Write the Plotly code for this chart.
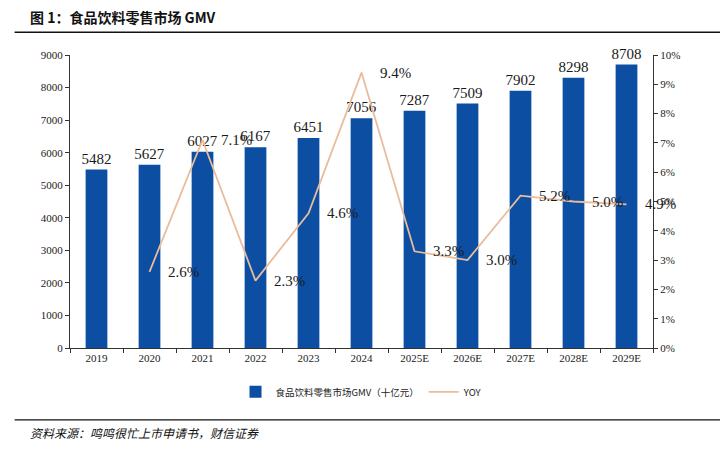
import plotly.graph_objects as go

years = ["2019", "2020", "2021", "2022", "2023", "2024", "2025E", "2026E", "2027E", "2028E", "2029E"]
gmv = [5482, 5627, 6027, 6167, 6451, 7056, 7287, 7509, 7902, 8298, 8708]
yoy = [None, 0.026, 0.071, 0.023, 0.046, 0.094, 0.033, 0.030, 0.052, 0.050, 0.049]
yoy_text = ["", "2.6%", "7.1%", "2.3%", "4.6%", "9.4%", "3.3%", "3.0%", "5.2%", "5.0%", "4.9%"]

serif = "Liberation Serif, Times New Roman, serif"
cjk = "Noto Sans CJK SC"

fig = go.Figure()
fig.add_trace(go.Bar(
    x=years, y=gmv, name="食品饮料零售市场GMV（十亿元）",
    marker=dict(color="#0B4EA2", line=dict(width=0)),
    width=0.41,
    text=[str(v) for v in gmv], textposition="outside",
    textfont=dict(family=serif, size=15, color="#1a1a1a"),
    constraintext="none", cliponaxis=False,
))
fig.add_trace(go.Scatter(
    x=years, y=yoy, name="YOY", yaxis="y2", mode="lines",
    line=dict(color="#E8BC9C", width=1.8),
    cliponaxis=False,
))
for i, (yv, tv) in enumerate(zip(yoy, yoy_text)):
    if yv is None:
        continue
    fig.add_annotation(x=i, y=yv, xref="x", yref="y2", text=tv, showarrow=False,
                       xanchor="left", yanchor="middle", xshift=16,
                       font=dict(family=serif, size=15, color="#1a1a1a"))

fig.update_layout(
    width=721, height=453,
    margin=dict(l=70, r=68, t=55, b=105),
    paper_bgcolor="white", plot_bgcolor="white",
    showlegend=True,
    legend=dict(orientation="h", x=0.5, xanchor="center", y=-0.1, yanchor="top",
                font=dict(family=cjk, size=9.5, color="#222"), itemwidth=30,
                traceorder="normal"),
    xaxis=dict(type="category", range=[-0.5, len(years) - 0.5], autorange=False,
               showline=True, linecolor="#333", linewidth=1,
               ticks="outside", tickson="boundaries", ticklen=4, tickcolor="#333",
               tickfont=dict(family=serif, size=11, color="#222"), showgrid=False),
    yaxis=dict(range=[0, 9000], dtick=1000, showline=True, linecolor="#333", linewidth=1,
               ticks="outside", ticklen=4, tickcolor="#333", showgrid=False, zeroline=False,
               tickfont=dict(family=serif, size=11, color="#222")),
    yaxis2=dict(range=[0, 0.10], dtick=0.01, tickformat=".0%", overlaying="y", side="right",
                showline=True, linecolor="#333", linewidth=1, ticks="outside", ticklen=4,
                tickcolor="#333", showgrid=False, zeroline=False,
                tickfont=dict(family=serif, size=11, color="#222")),
    bargap=0.59,
)

fig.add_annotation(xref="paper", yref="paper", x=-0.072, y=1.128, xanchor="left", yanchor="middle",
                   text="<b>图 1：食品饮料零售市场 GMV</b>", showarrow=False,
                   font=dict(family=cjk, size=14, color="#111"))
fig.add_annotation(xref="paper", yref="paper", x=-0.072, y=-0.29, xanchor="left", yanchor="middle",
                   text="<i>资料来源：鸣鸣很忙上市申请书，财信证券</i>", showarrow=False,
                   font=dict(family=cjk, size=12, color="#111"))
fig.add_shape(type="line", xref="paper", yref="paper", x0=-0.095, x1=1.115, y0=1.078, y1=1.078,
              line=dict(color="#111", width=1.5))
fig.add_shape(type="line", xref="paper", yref="paper", x0=-0.095, x1=1.115, y0=-0.245, y1=-0.245,
              line=dict(color="#111", width=1.2))

fig.write_html("out.html")
